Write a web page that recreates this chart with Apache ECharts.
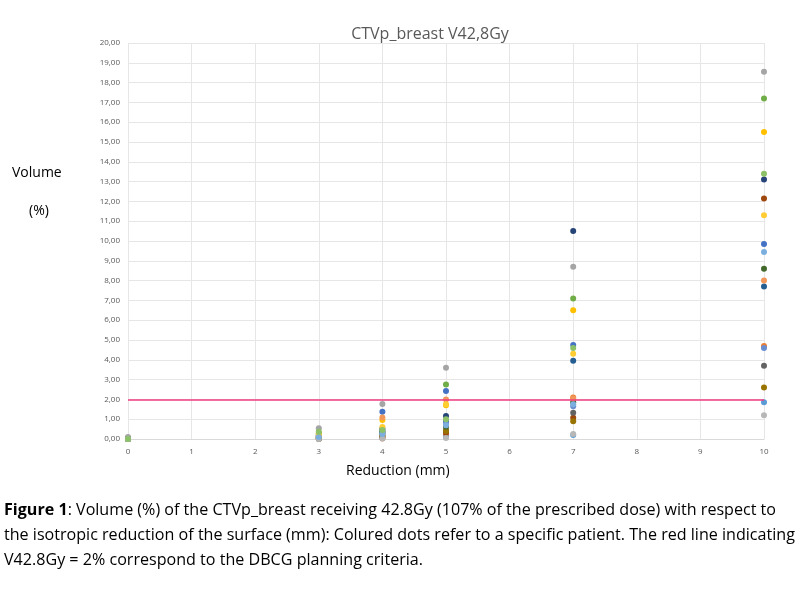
<!DOCTYPE html>
<html>
<head>
<meta charset="utf-8">
<script src="https://cdn.jsdelivr.net/npm/echarts@6/dist/echarts.min.js"></script>
<style>
  html, body { margin: 0; padding: 0; background: #fff; }
  #chart-container { width: 804px; height: 592px; }
  #caption {
    position: absolute; left: 4px; top: 497px; width: 800px;
    font-family: "Open Sans", sans-serif; white-space: nowrap;
    font-size: 16.1px; line-height: 25px; color: #000;
  }
</style>
</head>
<body>
<div id="chart-container"></div>
<div id="caption"><b>Figure 1</b>: Volume (%) of the CTVp_breast receiving 42.8Gy (107% of the prescribed dose) with respect to<br>the isotropic reduction of the surface (mm): Colured dots refer to a specific patient. The red line indicating<br>V42.8Gy = 2% correspond to the DBCG planning criteria.</div>
<script>
var reductions = [0, 3, 4, 5, 7, 10];

// V42.8Gy (%) per patient at each reduction
var patientNames = ["P1", "P2", "P3", "P4", "P5", "P6", "P7", "P8", "P9",
  "P10", "P11", "P12", "P13", "P14", "P15", "P16", "P17", "P18"];
var patientColors = ["#4472C4", "#ED7D31", "#A5A5A5", "#FFC000", "#5B9BD5", "#70AD47",
  "#264478", "#9E480E", "#636363", "#997300", "#255E91", "#43682B",
  "#698ED0", "#F1975A", "#B7B7B7", "#FFCD33", "#7CAFDD", "#8CC168"];
var patientValues = [
  [0.00, 0.20, 1.38, 2.42, 4.75, 9.85],
  [0.00, 0.00, 0.02, 0.20, 2.10, 4.70],
  [0.10, 0.54, 1.77, 3.60, 8.70, 18.55],
  [0.00, 0.30, 0.96, 1.70, 6.50, 15.50],
  [0.00, 0.00, 0.05, 0.10, 0.20, 1.85],
  [0.00, 0.25, 0.35, 2.75, 7.10, 17.20],
  [0.00, 0.15, 0.52, 1.16, 10.50, 13.10],
  [0.00, 0.02, 0.10, 0.30, 1.07, 12.15],
  [0.00, 0.05, 0.15, 0.45, 1.33, 3.70],
  [0.00, 0.03, 0.19, 0.40, 0.90, 2.60],
  [0.00, 0.10, 0.40, 0.90, 3.95, 7.70],
  [0.00, 0.08, 0.30, 0.62, 1.85, 8.60],
  [0.00, 0.12, 0.28, 0.79, 1.65, 4.60],
  [0.00, 0.18, 1.08, 2.00, 2.05, 8.00],
  [0.00, 0.00, 0.02, 0.05, 0.25, 1.20],
  [0.00, 0.22, 0.60, 1.75, 4.30, 11.30],
  [0.00, 0.10, 0.25, 0.70, 1.75, 9.45],
  [0.00, 0.37, 0.45, 1.00, 4.60, 13.40]
];
var criterion = 2;

var dom = document.getElementById("chart-container");
var myChart = echarts.init(dom, null, { renderer: "canvas" });

var series = patientNames.map(function (name, i) {
  return {
    name: name,
    type: "scatter",
    symbolSize: 6,
    itemStyle: { color: patientColors[i], opacity: 1 },
    data: reductions.map(function (r, j) { return [r, patientValues[i][j]]; })
  };
});
series[0].markLine = {
  silent: true,
  symbol: "none",
  label: { show: false },
  lineStyle: { color: "#F03C82", width: 1.5, type: "solid" },
  data: [[{ coord: [0, criterion] }, { coord: [10, criterion] }]]
};

var option = {
  textStyle: { fontFamily: "Open Sans" },
  title: {
    text: "CTVp_breast V42,8Gy",
    left: 425,
    top: 21,
    textAlign: "center",
    textStyle: { fontSize: 16, fontWeight: "normal", color: "#595959" }
  },
  graphic: [
    { type: "text", left: 12, top: 166, style: { text: "Volume", fontSize: 14, fill: "#000", fontFamily: "Open Sans" } },
    { type: "text", left: 29, top: 204, style: { text: "(%)", fontSize: 14, fill: "#000", fontFamily: "Open Sans" } },
    { type: "text", left: 346, top: 464, style: { text: "Reduction (mm)", fontSize: 14, fill: "#000", fontFamily: "Open Sans" } }
  ],
  grid: { left: 128, right: 40, top: 43, bottom: 153 },
  xAxis: {
    type: "value",
    min: 0,
    max: 10,
    interval: 1,
    axisLine: { lineStyle: { color: "#D9D9D9" } },
    axisTick: { show: false },
    axisLabel: { color: "#595959", fontSize: 8, margin: 9 },
    splitLine: { lineStyle: { color: "#E6E6E6" } }
  },
  yAxis: {
    type: "value",
    min: 0,
    max: 20,
    interval: 1,
    axisLine: { show: false },
    axisTick: { show: false },
    axisLabel: {
      color: "#595959",
      fontSize: 8,
      margin: 8,
      formatter: function (v) { return v.toFixed(2).replace(".", ","); }
    },
    splitLine: { lineStyle: { color: "#E6E6E6" } }
  },
  series: series
};

myChart.setOption(option);
window.addEventListener("resize", myChart.resize);
</script>
</body>
</html>
